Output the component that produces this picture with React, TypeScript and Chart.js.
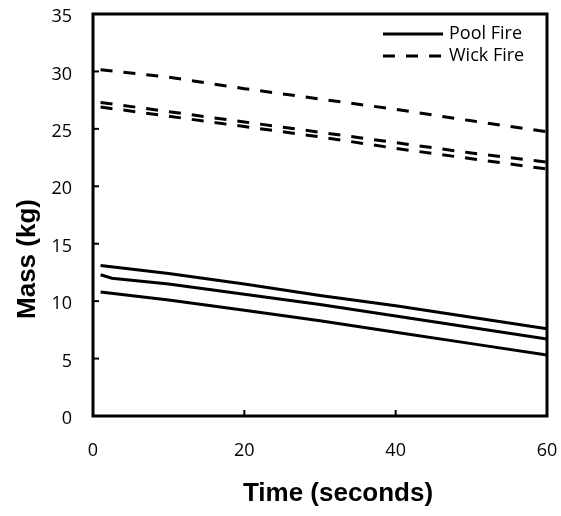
import React, { useEffect, useRef } from "react";
import { Chart, registerables } from "chart.js";

Chart.register(...registerables);

const times = [1, 10, 20, 30, 40, 50, 60];
const timesPoolMid = [1, 2.5, 10, 20, 30, 40, 50, 60];

const poolTop = [13.1, 12.4, 11.5, 10.5, 9.6, 8.6, 7.6];
const poolMid = [12.3, 12.0, 11.5, 10.6, 9.7, 8.7, 7.7, 6.7];
const poolBottom = [10.8, 10.1, 9.2, 8.3, 7.3, 6.3, 5.3];

const wickTop = [30.15, 29.5, 28.5, 27.6, 26.7, 25.7, 24.75];
const wickMid = [27.3, 26.5, 25.6, 24.7, 23.8, 22.9, 22.1];
const wickBottom = [26.9, 26.1, 25.2, 24.3, 23.3, 22.4, 21.5];

const xTicks = [0, 20, 40, 60];
const yTicks = [0, 5, 10, 15, 20, 25, 30, 35];

const legendLabels = ["Pool Fire", "Wick Fire"];
const xTitle = "Time (seconds)";
const yTitle = "Mass (kg)";

const WICK_DASH = [12, 11];

function pts(xs: number[], ys: number[]) {
  return xs.map((x, i) => ({ x, y: ys[i] }));
}

const framePlugin = {
  id: "frameAndExtras",
  afterDatasetsDraw(chart: any) {
    const { ctx, chartArea, scales } = chart;
    const { left, right, top, bottom } = chartArea;
    ctx.save();
    ctx.strokeStyle = "#000";
    ctx.lineWidth = 3;
    ctx.setLineDash([]);
    ctx.strokeRect(left, top, right - left, bottom - top);
    // inward ticks
    ctx.lineWidth = 2;
    const tl = 6;
    xTicks.forEach((v) => {
      const px = scales.x.getPixelForValue(v);
      if (px > left + 2 && px < right - 2) {
        ctx.beginPath();
        ctx.moveTo(px, bottom);
        ctx.lineTo(px, bottom - tl);
        ctx.stroke();
      }
    });
    yTicks.forEach((v) => {
      const py = scales.y.getPixelForValue(v);
      if (py > top + 2 && py < bottom - 2) {
        ctx.beginPath();
        ctx.moveTo(left, py);
        ctx.lineTo(left + tl, py);
        ctx.stroke();
      }
    });
    // legend
    ctx.font = "18px 'Open Sans', 'Noto Sans', sans-serif";
    ctx.fillStyle = "#000";
    ctx.textBaseline = "middle";
    ctx.textAlign = "left";
    const lx0 = right - 164;
    const lx1 = right - 104;
    const rows = [34, 56];
    legendLabels.forEach((lab, i) => {
      ctx.lineWidth = 3;
      ctx.setLineDash(i === 0 ? [] : WICK_DASH);
      ctx.beginPath();
      ctx.moveTo(lx0, rows[i]);
      ctx.lineTo(lx1, rows[i]);
      ctx.stroke();
      ctx.setLineDash([]);
      ctx.fillText(lab, lx1 + 6, rows[i]);
    });
    // axis titles
    ctx.font = "bold 26px 'Liberation Sans', Arial, sans-serif";
    ctx.textAlign = "center";
    ctx.fillText(xTitle, 338, 494);
    ctx.save();
    ctx.translate(28, 259);
    ctx.rotate(-Math.PI / 2);
    ctx.fillText(yTitle, 0, 0);
    ctx.restore();
    ctx.restore();
  },
};

export default function App() {
  const ref = useRef<HTMLCanvasElement>(null);
  useEffect(() => {
    if (!ref.current) return;
    const common = { borderColor: "#000", borderWidth: 3, pointRadius: 0, fill: false, tension: 0 };
    const tickFont = { size: 18, family: "'Open Sans', 'Noto Sans', sans-serif" };
    const chart = new Chart(ref.current, {
      type: "line",
      data: {
        datasets: [
          { label: "Pool Fire", data: pts(times, poolTop), ...common },
          { label: "Pool Fire", data: pts(timesPoolMid, poolMid), ...common },
          { label: "Pool Fire", data: pts(times, poolBottom), ...common },
          { label: "Wick Fire", data: pts(times, wickTop), ...common, borderDash: WICK_DASH },
          { label: "Wick Fire", data: pts(times, wickMid), ...common, borderDash: WICK_DASH },
          { label: "Wick Fire", data: pts(times, wickBottom), ...common, borderDash: WICK_DASH },
        ],
      },
      options: {
        animation: false,
        responsive: false,
        maintainAspectRatio: false,
        layout: { padding: { left: 0, right: 14, top: 14, bottom: 0 } },
        plugins: { legend: { display: false }, tooltip: { enabled: false }, title: { display: false } },
        scales: {
          x: {
            type: "linear",
            min: 0,
            max: 60,
            afterBuildTicks: (s: any) => { s.ticks = xTicks.map((v) => ({ value: v })); },
            afterFit: (s: any) => { s.height = 100; s.paddingLeft = 0; s.paddingRight = 0; },
            grid: { display: false, drawTicks: false },
            border: { display: false },
            ticks: { color: "#000", padding: 24, font: tickFont },
          },
          y: {
            type: "linear",
            min: 0,
            max: 35,
            afterBuildTicks: (s: any) => { s.ticks = yTicks.map((v) => ({ value: v })); },
            afterFit: (s: any) => { s.width = 93; s.paddingTop = 0; s.paddingBottom = 0; },
            grid: { display: false, drawTicks: false },
            border: { display: false },
            ticks: { color: "#000", padding: 21, labelOffset: 3, font: tickFont },
          },
        },
      },
      plugins: [framePlugin],
    });
    return () => chart.destroy();
  }, []);
  return (
    <div style={{ position: "absolute", left: 0, top: 0, width: 561, height: 516, background: "#fff" }}>
      <canvas ref={ref} width={561} height={516} style={{ width: 561, height: 516, display: "block" }} />
    </div>
  );
}
